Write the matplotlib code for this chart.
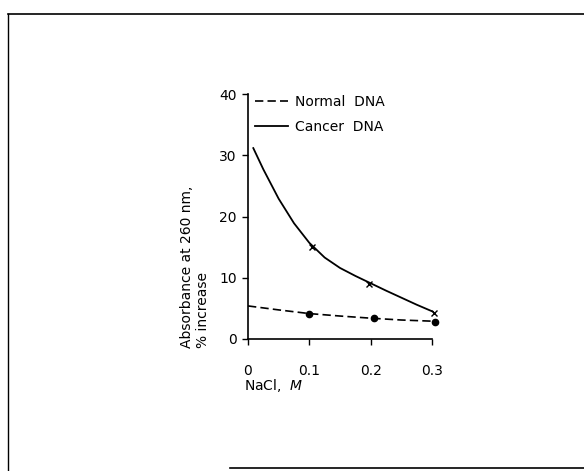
import matplotlib
matplotlib.use("Agg")
import matplotlib.pyplot as plt
from matplotlib.lines import Line2D

# Data
cancer_curve_x = [0.008, 0.025, 0.05, 0.075, 0.1, 0.125, 0.15, 0.175,
                  0.2, 0.225, 0.25, 0.275, 0.303]
cancer_curve_y = [31.3, 27.7, 22.9, 18.9, 15.7, 13.3, 11.6, 10.3,
                  9.1, 7.9, 6.75, 5.6, 4.4]
cancer_pts_x = [0.105, 0.198, 0.303]
cancer_pts_y = [15.0, 9.0, 4.3]

normal_curve_x = [0.0, 0.05, 0.1, 0.15, 0.2, 0.25, 0.303]
normal_curve_y = [5.4, 4.75, 4.15, 3.75, 3.4, 3.1, 2.9]
normal_pts_x = [0.1, 0.205, 0.305]
normal_pts_y = [4.1, 3.4, 2.8]

x_ticks = [0, 0.1, 0.2, 0.3]
x_ticklabels = ["0", "0.1", "0.2", "0.3"]
y_ticks = [0, 10, 20, 30, 40]

plt.rcParams['font.family'] = ['DejaVu Sans']

fig = plt.figure(figsize=(5.84, 4.71), dpi=100)
fig.patch.set_facecolor('white')

# Frame around the figure (scan border)
fig.add_artist(Line2D([8/584, 1.0], [1-14/471, 1-14/471], color='black', lw=1.2, transform=fig.transFigure))
fig.add_artist(Line2D([8/584, 8/584], [1-14/471, 0.0], color='black', lw=1.0, transform=fig.transFigure))
fig.add_artist(Line2D([230/584, 1.0], [1-468/471, 1-468/471], color='black', lw=1.2, transform=fig.transFigure))

ax = fig.add_axes([248/584, (471-339)/471, 184/584, 245/471])
ax.set_xlim(0, 0.3)
ax.set_ylim(0, 40)

ax.plot(cancer_curve_x, cancer_curve_y, color='black', lw=1.3, solid_capstyle='butt', clip_on=False)
ax.plot(cancer_pts_x, cancer_pts_y, linestyle='none', marker='x', color='black',
        markersize=5, mew=1.0, clip_on=False)
ax.plot(normal_curve_x, normal_curve_y, color='black', lw=1.2, linestyle=(0, (5, 2.5)), clip_on=False)
ax.plot(normal_pts_x, normal_pts_y, linestyle='none', marker='o', color='black',
        markersize=4.5, clip_on=False)

for s in ['top', 'right']:
    ax.spines[s].set_visible(False)
ax.spines['left'].set_linewidth(1.2)
ax.spines['bottom'].set_linewidth(1.2)

ax.set_xticks(x_ticks)
ax.set_xticklabels(x_ticklabels)
ax.set_yticks(y_ticks)
ax.tick_params(axis='both', direction='out', length=4, width=1, labelsize=10)
ax.tick_params(axis='x', pad=14)
ax.tick_params(axis='y', pad=4)

handles = [Line2D([], [], color='black', lw=1.2, linestyle=(0, (5, 2.5))),
           Line2D([], [], color='black', lw=1.3)]
ax.legend(handles, ['Normal  DNA', 'Cancer  DNA'], loc='upper left',
          bbox_to_anchor=(-0.015, 1.035), frameon=False, fontsize=10,
          handlelength=2.4, handletextpad=0.5, labelspacing=0.75, borderpad=0.2)

fig.text(195/584, 1-348/471, "Absorbance at 260 nm,\n% increase", rotation=90,
         ha='center', va='bottom', multialignment='left', fontsize=10, linespacing=1.15)
fig.text(244/584, 1-386/471, r"NaCl,  $\mathit{M}$", ha='left', va='center', fontsize=10)

fig.savefig("out.png", dpi=100, facecolor='white')
